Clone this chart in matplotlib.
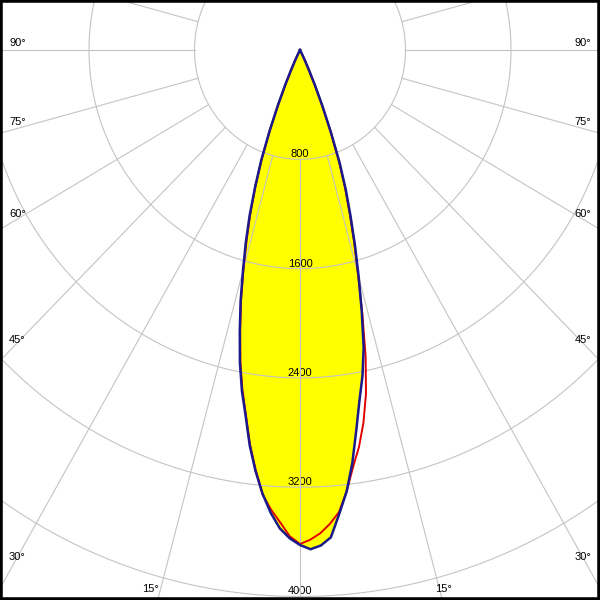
import matplotlib.pyplot as plt
import numpy as np

plt.rcParams['font.family'] = ['Liberation Sans', 'DejaVu Sans']

# gamma angles (deg) and luminous intensity (cd) for the two planes
gamma = [-30, -28.75, -27.5, -26.25, -25, -23.75, -22.5, -21.25, -20, -18.75,
         -17.5, -16.25, -15, -13.75, -12.5, -11.25, -10, -8.75, -7.5, -6.25,
         -5, -3.75, -2.5, -1.25, 0, 1.25, 2.5, 3.75, 5, 6.25,
         7.5, 8.75, 10, 11.25, 12.5, 13.75, 15, 16.25, 17.5, 18.75,
         20, 21.25, 22.5, 23.75, 25, 26.25, 27.5, 28.75, 30]
c0_c180 = [0, 5, 25, 70, 150, 275, 440, 640, 860, 1060,
           1270, 1470, 1670, 1895, 2110, 2335, 2535, 2710, 2920, 3100,
           3260, 3395, 3505, 3575, 3623, 3655, 3630, 3575, 3410, 3250,
           3045, 2810, 2600, 2430, 2230, 1970, 1720, 1490, 1275, 1080,
           880, 650, 450, 280, 150, 70, 25, 5, 0]
c90_c270 = [0, 5, 25, 65, 140, 265, 425, 625, 845, 1045,
            1250, 1445, 1655, 1880, 2095, 2320, 2520, 2700, 2910, 3090,
            3265, 3370, 3460, 3560, 3616, 3585, 3540, 3475, 3395, 3250,
            3080, 2940, 2770, 2565, 2300, 1990, 1700, 1470, 1250, 1060,
            850, 630, 430, 270, 140, 65, 25, 5, 0]

ring_values = [800, 1600, 2400, 3200, 4000]
angle_labels = [90, 75, 60, 45, 30, 15]

# pixel layout of the original (slightly stretched vertically)
W, H = 600, 600
ox, oy = 300, 50
kx = 105.5 / 800
ky = 109.3 / 800
grid_c = '#c4c4c4'


def dx(px):
    return (px - ox) / kx


def dy(py):
    return (oy - py) / ky


fig = plt.figure(figsize=(6, 6), dpi=100)
ax = fig.add_axes([0, 0, 1, 1])
ax.set_xlim(dx(0), dx(W))
ax.set_ylim(dy(H), dy(0))
ax.set_xticks([])
ax.set_yticks([])
for s in ax.spines.values():
    s.set_linewidth(4)
    s.set_color('black')
    s.set_zorder(10)

g = np.radians(gamma)
b = np.array(c0_c180)
r = np.array(c90_c270)
bx, by = b * np.sin(g), -b * np.cos(g)
rx, ry = r * np.sin(g), -r * np.cos(g)

ax.fill(bx, by, color='#ffff00', zorder=1, lw=0)

# rings
t = np.linspace(0, 2 * np.pi, 721)
for rv in ring_values + [4800]:
    ax.plot(rv * np.sin(t), rv * np.cos(t), color=grid_c, lw=0.8, zorder=3)

# radial lines, starting at the first ring
for a in range(0, 360, 15):
    th = np.radians(a)
    ax.plot([800 * np.sin(th), 9000 * np.sin(th)],
            [-800 * np.cos(th), -9000 * np.cos(th)], color=grid_c, lw=0.8, zorder=3)

# ring values
for rv in ring_values:
    ax.text(0, -rv + 2 / ky, str(rv), ha='center', va='baseline', fontsize=8, zorder=2)

# angle labels
for a in angle_labels:
    th = np.radians(a)
    if a > 20:
        xl = dx(18)
        tt = -xl / np.sin(th)
        y_px = oy + tt * np.cos(th) * ky
        y_px += -8 + 10 * np.cos(th) ** 2
        ax.text(dx(9), dy(y_px), f'{a}°', ha='left', va='center_baseline', fontsize=8, zorder=6)
        ax.text(dx(W - 9), dy(y_px), f'{a}°', ha='right', va='center_baseline', fontsize=8, zorder=6)
    else:
        yl = dy(588)
        tt = -yl / np.cos(th)
        x_off = tt * np.sin(th) * kx
        ax.text(dx(ox - x_off - 2), yl, f'{a}°', ha='right', va='center_baseline', fontsize=8, zorder=6)
        ax.text(dx(ox + x_off - 4), yl, f'{a}°', ha='left', va='center_baseline', fontsize=8, zorder=6)

ax.plot(rx, ry, color='#e00000', lw=1.4, zorder=4)
ax.plot(bx, by, color='#1a1a8a', lw=1.8, zorder=5)

fig.savefig('out.png', dpi=100)
